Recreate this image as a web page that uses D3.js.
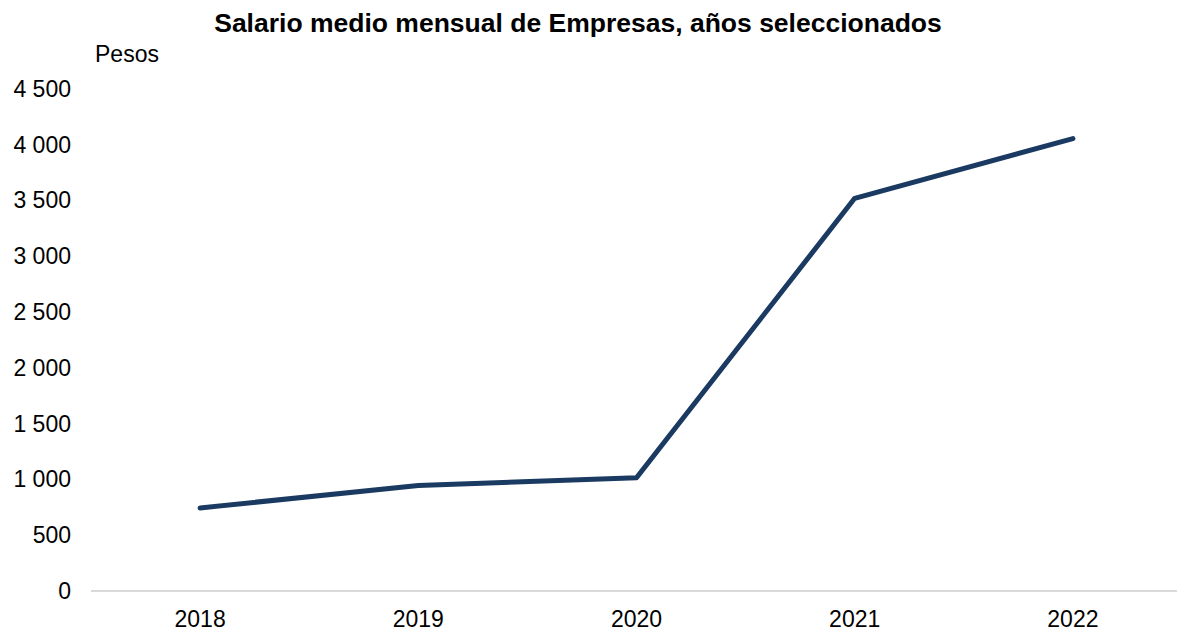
<!DOCTYPE html>
<html>
<head>
<meta charset="utf-8">
<script src="https://cdn.jsdelivr.net/npm/d3@7"></script>
<style>
  body { margin: 0; background: #fff; }
  svg text { font-family: "Liberation Sans", Arial, sans-serif; fill: #000; }
</style>
</head>
<body>
<script>
const years = ['2018', '2019', '2020', '2021', '2022'];
const salario = [745, 945, 1015, 3520, 4055];
const yTicks = [0, 500, 1000, 1500, 2000, 2500, 3000, 3500, 4000, 4500];

const width = 1177, height = 631;
const margin = { top: 89, right: -5, bottom: 40, left: 91 };

const svg = d3.select('body').append('svg')
    .attr('width', width)
    .attr('height', height);

const x = d3.scaleBand()
    .domain(years)
    .range([margin.left, width - margin.right]);
const y = d3.scaleLinear()
    .domain([0, 4500])
    .range([height - margin.bottom, margin.top]);

// title
svg.append('text')
    .attr('x', 578).attr('y', 32)
    .attr('text-anchor', 'middle')
    .style('font-size', '26.5px')
    .style('font-weight', 'bold')
    .text('Salario medio mensual de Empresas, años seleccionados');

svg.append('text')
    .attr('x', 95).attr('y', 62)
    .style('font-size', '23px')
    .text('Pesos');

// y axis (labels only)
const fmt = v => d3.format(',')(v).replace(/,/g, ' ');
const yAxis = d3.axisLeft(y).tickValues(yTicks).tickFormat(fmt).tickSize(0).tickPadding(0);
svg.append('g')
    .attr('transform', `translate(71,0)`)
    .call(yAxis)
    .call(g => g.select('.domain').remove())
    .call(g => g.selectAll('text').style('font-size', '23px').attr('font-family', null));

// x axis
const xAxis = d3.axisBottom(x).tickSize(0).tickPadding(20);
svg.append('g')
    .attr('transform', `translate(0,${y(0)})`)
    .call(xAxis)
    .call(g => g.select('.domain').attr('stroke', '#d9d9d9').attr('stroke-width', 2)
        .attr('d', `M${margin.left},0H${width}`))
    .call(g => g.selectAll('text').style('font-size', '23px').attr('font-family', null));

// line
const data = years.map((yr, i) => ({ yr, v: salario[i] }));
svg.append('path')
    .datum(data)
    .attr('fill', 'none')
    .attr('stroke', '#1b3a62')
    .attr('stroke-width', 5)
    .attr('stroke-linecap', 'round')
    .attr('stroke-linejoin', 'round')
    .attr('d', d3.line()
        .x(d => x(d.yr) + x.bandwidth() / 2)
        .y(d => y(d.v)));
</script>
</body>
</html>
